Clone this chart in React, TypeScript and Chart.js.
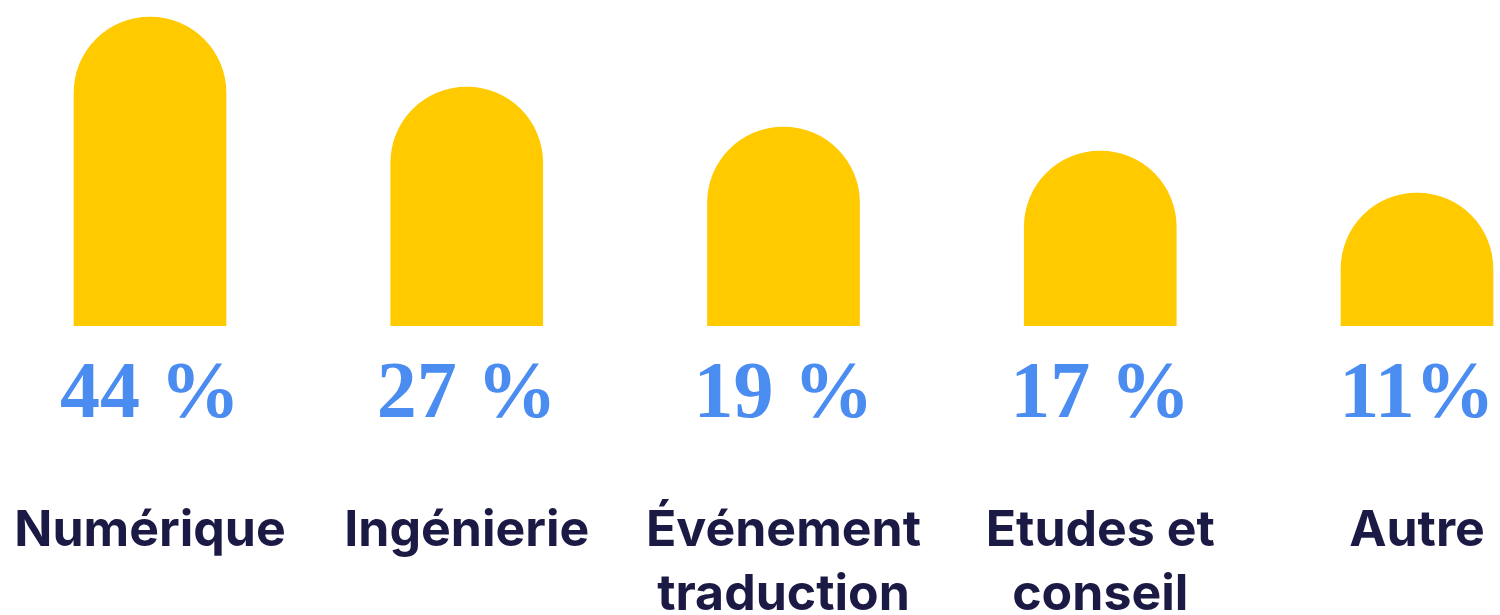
import React, { useEffect, useRef } from "react";
import { Chart, registerables } from "chart.js";

Chart.register(...registerables);

// Categories (multi-line labels)
const categories: string[][] = [
  ["Numérique"],
  ["Ingénierie"],
  ["Événement", "traduction"],
  ["Etudes et", "conseil"],
  ["Autre"],
];

// Share of each sector (printed labels)
const percentLabels: string[] = ["44 %", "27 %", "19 %", "17 %", "11%"];

// Visual bar heights as drawn in the picture (relative units, tallest = 100)
const barLevels: number[] = [100, 77.3, 64.4, 56.6, 43.0];

const BAR_COLOR = "#FFCA00";
const PCT_COLOR = "#4A8CF0";
const CAT_COLOR = "#1B1A45";

const labelsPlugin = {
  id: "customLabels",
  afterDatasetsDraw(chart: any) {
    const { ctx, scales } = chart;
    const x = scales.x;
    ctx.save();
    ctx.textAlign = "center";
    ctx.textBaseline = "alphabetic";
    percentLabels.forEach((t, i) => {
      const px = x.getPixelForValue(i);
      ctx.fillStyle = PCT_COLOR;
      ctx.font = "bold 80px 'Liberation Serif'";
      ctx.fillText(t, px, 417);
    });
    categories.forEach((lines, i) => {
      const px = x.getPixelForValue(i);
      ctx.fillStyle = CAT_COLOR;
      ctx.font = "bold 50px Inter";
      lines.forEach((ln, j) => {
        ctx.fillText(ln, px, 546 + j * 64);
      });
    });
    ctx.restore();
  },
};

export default function App() {
  const ref = useRef<HTMLCanvasElement | null>(null);
  useEffect(() => {
    if (!ref.current) return;
    const chart = new Chart(ref.current, {
      type: "bar",
      data: {
        labels: categories.map((c) => c.join(" ")),
        datasets: [
          {
            data: barLevels,
            backgroundColor: BAR_COLOR,
            barThickness: 152,
            borderRadius: 76,
            borderSkipped: "start",
            base: -60,
            clip: { left: false, right: false, top: false, bottom: 0 } as any,
          } as any,
        ],
      },
      options: {
        animation: false,
        responsive: true,
        maintainAspectRatio: false,
        layout: { padding: { left: 150, right: 83, top: 17, bottom: 289 } },
        plugins: { legend: { display: false }, tooltip: { enabled: false } },
        scales: {
          x: { display: false, offset: false, grid: { display: false } },
          y: { display: false, min: 0, max: 100 },
        },
      },
      plugins: [labelsPlugin],
    });
    return () => chart.destroy();
  }, []);
  return (
    <div style={{ position: "absolute", left: 0, top: 0, width: 1500, height: 615, background: "#fff" }}>
      <canvas ref={ref} />
    </div>
  );
}
